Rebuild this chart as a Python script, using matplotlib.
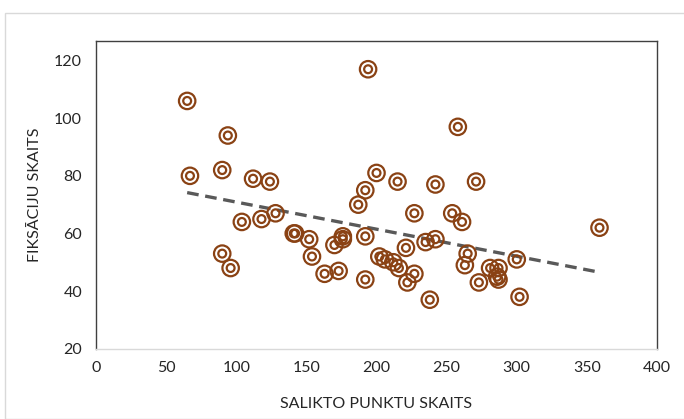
import numpy as np
import matplotlib.pyplot as plt
from matplotlib.patches import Rectangle

# data
punkti = [65, 67, 94, 90, 90, 96, 104, 112, 118, 124, 128, 141, 142, 152, 154,
          163, 170, 173, 176, 176, 187, 192, 192, 192, 194, 200, 202, 206, 212,
          216, 215, 221, 222, 227, 227, 235, 238, 242, 242, 254, 258, 261, 265,
          263, 271, 273, 281, 287, 287, 286, 300, 302, 359]
fiksacijas = [106, 80, 94, 82, 53, 48, 64, 79, 65, 78, 67, 60, 60, 58, 52,
              46, 56, 47, 59, 58, 70, 75, 59, 44, 117, 81, 52, 51, 50,
              48, 78, 55, 43, 67, 46, 57, 37, 77, 58, 67, 97, 64, 53,
              49, 78, 43, 48, 48, 44, 45, 51, 38, 62]

x_ticks = np.arange(0, 401, 50)
y_ticks = np.arange(20, 121, 20)

brown = '#8a4214'

plt.rcParams['font.family'] = ['Lato', 'DejaVu Sans']

fig = plt.figure(figsize=(6.84, 4.19), dpi=100)
ax = fig.add_axes([96/684, 1 - 348.7/419, (657 - 96)/684, (348.7 - 41)/419])

# outer chart border
fig.patches.append(Rectangle((5/684, 0), 1, 1 - 13/419, transform=fig.transFigure,
                             fill=False, edgecolor='#d9d9d9', linewidth=1))

x = np.array(punkti)
y = np.array(fiksacijas)

# double ring markers
ax.scatter(x, y, s=140, facecolors='none', edgecolors=brown, linewidths=1.6, zorder=3)
ax.scatter(x, y, s=32, facecolors='none', edgecolors=brown, linewidths=1.6, zorder=4)

# linear trendline
k, b = np.polyfit(x, y, 1)
xt = np.array([x.min(), x.max()])
ax.plot(xt, k * xt + b, color='#595959', linestyle=(0, (3.5, 2)), linewidth=2.4, zorder=2)

ax.set_xlim(0, 400)
ax.set_ylim(20, 126.8)
ax.set_xticks(x_ticks)
ax.set_yticks(y_ticks)
ax.tick_params(length=0, labelsize=11.5, colors='#262626', pad=9)
ax.tick_params(axis='y', pad=10)

for s in ['left', 'top', 'right']:
    ax.spines[s].set_color('#404040')
    ax.spines[s].set_linewidth(1)
ax.spines['bottom'].set_color('#d9d9d9')
ax.spines['bottom'].set_linewidth(1)

ax.set_xlabel('SALIKTO PUNKTU SKAITS', fontsize=11.5, color='#262626', labelpad=16)
ax.set_ylabel('FIKSĀCIJU SKAITS', fontsize=11.5, color='#262626', labelpad=9)

fig.savefig('out.png', dpi=100)
